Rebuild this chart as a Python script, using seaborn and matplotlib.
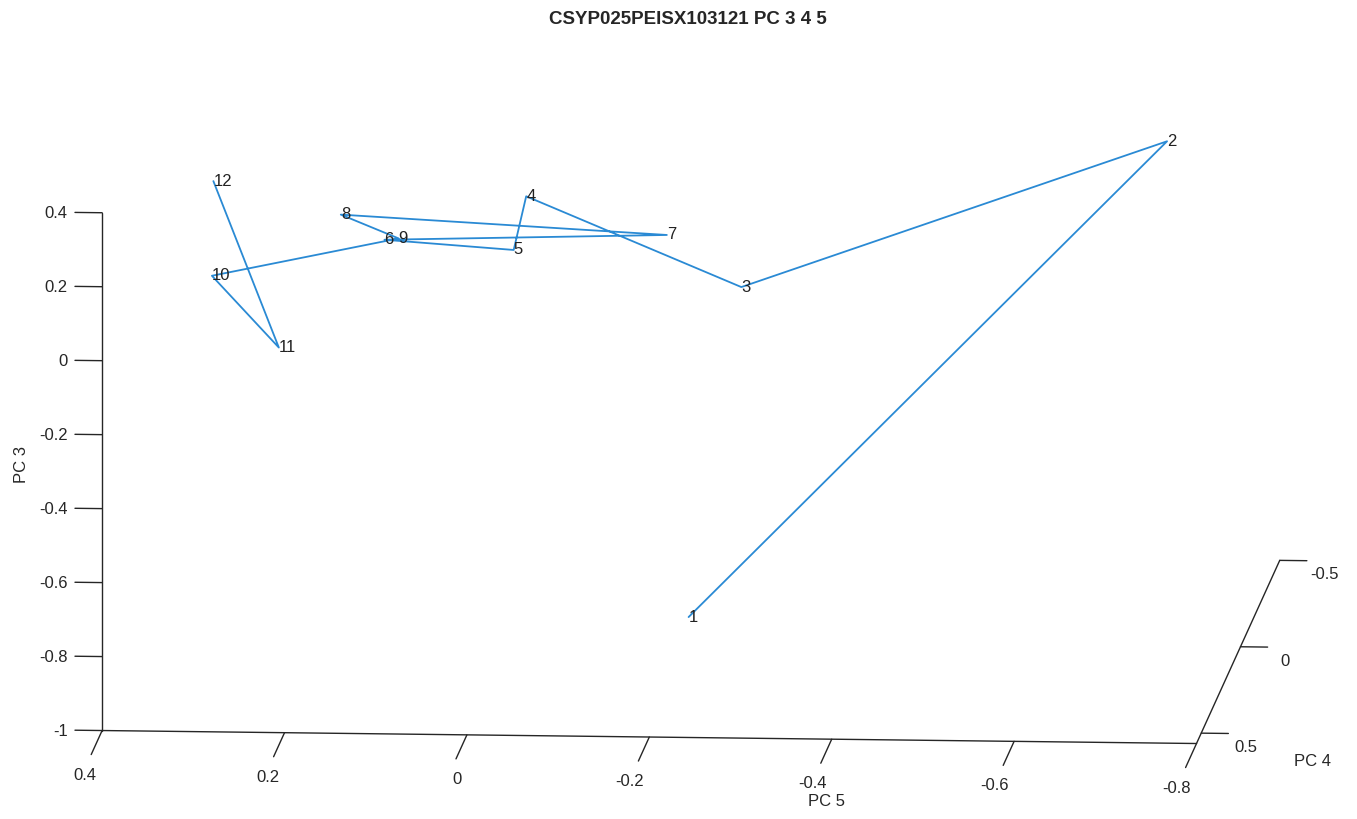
import numpy as np
import matplotlib
matplotlib.use("Agg")
import matplotlib.pyplot as plt
import seaborn as sns
from mpl_toolkits.mplot3d import proj3d

sns.set_style("white")
plt.rcParams['font.family'] = ['Liberation Sans', 'DejaVu Sans']
plt.rcParams['axes.unicode_minus'] = False

# scores of the 12 samples on PCs 3, 4, 5
labels = ['1', '2', '3', '4', '5', '6', '7', '8', '9', '10', '11', '12']
pc5 = [-0.225, -0.698, -0.257, -0.034, -0.016, 0.130, -0.171, 0.165, 0.1145, 0.302, 0.220, 0.309]
pc4 = [0.35, -0.25, 0.05, 0.20, 0.15, 0.10, 0.00, 0.25, 0.10, 0.30, 0.40, 0.20]
pc3 = [-0.773, 0.247, -0.020, 0.289, 0.120, 0.120, 0.095, 0.257, 0.124, 0.111, -0.034, 0.320]

xticks = [-0.8, -0.6, -0.4, -0.2, 0, 0.2, 0.4]
yticks = [-0.5, 0, 0.5]
zticks = [-1, -0.8, -0.6, -0.4, -0.2, 0, 0.2, 0.4]

fig = plt.figure(figsize=(13.57, 8.19), dpi=100)
ax = fig.add_axes([0.001, 0.0145, 1, 1], projection='3d')
ax.set_proj_type('ortho')
ax.view_init(elev=9.3, azim=94.2)

ax.plot(pc5, pc4, pc3, color='#2a8ad4', lw=1.3, clip_on=False)

ax.set_xlim(-0.8, 0.4)
ax.set_ylim(-0.5, 0.56)
ax.set_zlim(-1, 0.4)
ax.set_box_aspect((1098, 1137, 525), zoom=1.973)
ax.grid(False)

ax.xaxis.set_tick_params(pad=11.5)
ax.yaxis.set_tick_params(pad=4.6)
ax.zaxis.set_tick_params(pad=1)
for a in (ax.xaxis, ax.yaxis, ax.zaxis):
    a.set_pane_color((1, 1, 1, 0))
    a.line.set_color('#262626')
    a.line.set_linewidth(1.0)
    a.set_tick_params(labelsize=12, colors='#262626')
    a._axinfo['tick']['linewidth'] = {True: 1.0, False: 0.5}
    a._axinfo['tick']['color'] = '#262626'

# tick marks: MATLAB-like, pointing out of the box
ax.xaxis._axinfo['tick'].update(inward_factor=1.64, outward_factor=0)
ax.yaxis._axinfo['tick'].update(inward_factor=0.31, outward_factor=0)
ax.zaxis._axinfo['tick'].update(inward_factor=0, outward_factor=0.31)

# vertical axis on the front-left edge, ticks pointing left
ax.zaxis.set_ticks_position('upper')
ax.zaxis.set_label_position('upper')
ax.zaxis._get_tickdir = lambda position: 0

ax.set_xticks(xticks)
ax.set_yticks(yticks)
ax.set_zticks(zticks)
ax.set_xticklabels([f'{v:g}' for v in xticks])
ax.set_yticklabels([f'{v:g}' for v in yticks])
ax.set_zticklabels([f'{v:g}' for v in zticks])
plt.setp(ax.get_xticklabels(), ha='right', va='center')
plt.setp(ax.get_yticklabels(), ha='center', va='bottom')
plt.setp(ax.get_zticklabels(), ha='right', va='baseline')

ax.set_xlabel('')
ax.set_ylabel('')
ax.zaxis.set_rotate_label(False)
ax.zaxis._axinfo['label']['ha'] = 'left'
ax.set_zlabel('PC 3', fontsize=12, labelpad=0, rotation=90, color='#262626')

# point labels, placed on the projected vertices
fig.canvas.draw()
px, py, _ = proj3d.proj_transform(np.array(pc5), np.array(pc4), np.array(pc3), ax.M)
for x, y, t in zip(px, py, labels):
    ax.text2D(x, y, t, transform=ax.transData, fontsize=12, ha='left', va='center',
              color='#222222', clip_on=False)

fig.text(826 / 1357, 1 - 801 / 819, 'PC 5', ha='center', va='center', fontsize=12, color='#262626')
fig.text(1313 / 1357, 1 - 762 / 819, 'PC 4', ha='center', va='center', fontsize=12, color='#262626')
fig.text(688 / 1357, 1 - 19.5 / 819, 'CSYP025PEISX103121 PC 3 4 5', ha='center', va='center',
         fontsize=13.5, fontweight='bold')

fig.savefig('out.png', dpi=100)
